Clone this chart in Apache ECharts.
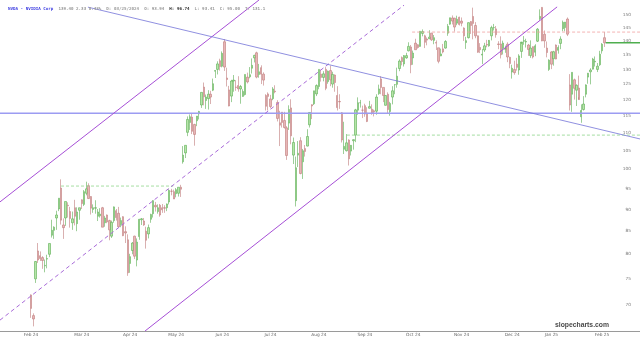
<!DOCTYPE html>
<html><head><meta charset="utf-8">
<script src="https://cdn.jsdelivr.net/npm/echarts@6/dist/echarts.min.js"></script>
<style>html,body{margin:0;padding:0;background:#fff}#c{width:640px;height:341px}</style>
</head><body><div id="c"></div>
<script>
// ---- daily candles (NVDA), Feb 2024 - Feb 2025 ----
const dates = [
'2024-02-20','2024-02-21','2024-02-22','2024-02-23','2024-02-26','2024-02-27','2024-02-28','2024-02-29',
'2024-03-01','2024-03-04','2024-03-05','2024-03-06','2024-03-07','2024-03-08','2024-03-11','2024-03-12','2024-03-13','2024-03-14','2024-03-15','2024-03-18','2024-03-19','2024-03-20','2024-03-21','2024-03-22','2024-03-25','2024-03-26','2024-03-27','2024-03-28',
'2024-04-01','2024-04-02','2024-04-03','2024-04-04','2024-04-05','2024-04-08','2024-04-09','2024-04-10','2024-04-11','2024-04-12','2024-04-15','2024-04-16','2024-04-17','2024-04-18','2024-04-19','2024-04-22','2024-04-23','2024-04-24','2024-04-25','2024-04-26','2024-04-29','2024-04-30',
'2024-05-01','2024-05-02','2024-05-03','2024-05-06','2024-05-07','2024-05-08','2024-05-09','2024-05-10','2024-05-13','2024-05-14','2024-05-15','2024-05-16','2024-05-17','2024-05-20','2024-05-21','2024-05-22','2024-05-23','2024-05-24','2024-05-28','2024-05-29','2024-05-30','2024-05-31',
'2024-06-03','2024-06-04','2024-06-05','2024-06-06','2024-06-07','2024-06-10','2024-06-11','2024-06-12','2024-06-13','2024-06-14','2024-06-17','2024-06-18','2024-06-20','2024-06-21','2024-06-24','2024-06-25','2024-06-26','2024-06-27','2024-06-28',
'2024-07-01','2024-07-02','2024-07-03','2024-07-05','2024-07-08','2024-07-09','2024-07-10','2024-07-11','2024-07-12','2024-07-15','2024-07-16','2024-07-17','2024-07-18','2024-07-19','2024-07-22','2024-07-23','2024-07-24','2024-07-25','2024-07-26','2024-07-29','2024-07-30','2024-07-31',
'2024-08-01','2024-08-02','2024-08-05','2024-08-06','2024-08-07','2024-08-08','2024-08-09','2024-08-12','2024-08-13','2024-08-14','2024-08-15','2024-08-16','2024-08-19','2024-08-20','2024-08-21','2024-08-22','2024-08-23','2024-08-26','2024-08-27','2024-08-28','2024-08-29','2024-08-30',
'2024-09-03','2024-09-04','2024-09-05','2024-09-06','2024-09-09','2024-09-10','2024-09-11','2024-09-12','2024-09-13','2024-09-16','2024-09-17','2024-09-18','2024-09-19','2024-09-20','2024-09-23','2024-09-24','2024-09-25','2024-09-26','2024-09-27','2024-09-30',
'2024-10-01','2024-10-02','2024-10-03','2024-10-04','2024-10-07','2024-10-08','2024-10-09','2024-10-10','2024-10-11','2024-10-14','2024-10-15','2024-10-16','2024-10-17','2024-10-18','2024-10-21','2024-10-22','2024-10-23','2024-10-24','2024-10-25','2024-10-28','2024-10-29','2024-10-30','2024-10-31',
'2024-11-01','2024-11-04','2024-11-05','2024-11-06','2024-11-07','2024-11-08','2024-11-11','2024-11-12','2024-11-13','2024-11-14','2024-11-15','2024-11-18','2024-11-19','2024-11-20','2024-11-21','2024-11-22','2024-11-25','2024-11-26','2024-11-27','2024-11-29',
'2024-12-02','2024-12-03','2024-12-04','2024-12-05','2024-12-06','2024-12-09','2024-12-10','2024-12-11','2024-12-12','2024-12-13','2024-12-16','2024-12-17','2024-12-18','2024-12-19','2024-12-20','2024-12-23','2024-12-24','2024-12-26','2024-12-27','2024-12-30','2024-12-31',
'2025-01-02','2025-01-03','2025-01-06','2025-01-07','2025-01-08','2025-01-10','2025-01-13','2025-01-14','2025-01-15','2025-01-16','2025-01-17','2025-01-21','2025-01-22','2025-01-23','2025-01-24','2025-01-27','2025-01-28','2025-01-29','2025-01-30','2025-01-31',
'2025-02-03','2025-02-04','2025-02-05','2025-02-06','2025-02-07','2025-02-10','2025-02-11','2025-02-12','2025-02-13','2025-02-14','2025-02-18'
];
const opens = [
71.9,68.1,75.0,80.7,79.7,79.3,77.6,79.0,
80.0,84.1,85.2,88.0,90.1,95.2,86.4,88.0,91.0,89.5,86.9,90.4,86.7,89.8,92.3,91.2,93.9,95.8,93.1,90.0,
90.3,88.4,88.5,90.4,86.9,88.7,87.4,83.9,87.4,89.7,89.1,86.5,88.3,84.9,83.1,78.1,80.8,83.9,78.8,83.8,87.6,87.3,
85.0,84.4,87.7,89.0,91.0,89.5,91.0,90.4,90.4,90.4,91.8,94.4,94.3,93.8,93.9,95.4,102.0,104.4,110.2,113.1,114.7,112.5,
113.6,115.7,118.4,124.1,119.8,120.4,121.8,123.1,129.4,130.0,133.0,131.1,139.8,127.1,123.2,121.2,126.1,124.1,124.6,
123.5,121.1,121.7,127.4,127.5,130.4,134.0,135.8,128.3,130.6,128.4,121.4,121.9,120.3,120.4,122.8,119.2,113.0,116.2,113.7,111.5,112.9,
117.5,103.8,92.1,103.8,107.8,102.0,105.6,106.3,112.4,118.5,118.8,121.9,124.3,128.4,127.3,130.0,125.9,129.6,125.1,128.1,121.4,119.5,
116.0,105.4,105.0,108.0,104.9,107.8,109.4,116.8,119.1,116.8,118.2,115.9,117.4,117.1,116.6,116.5,122.0,126.8,124.0,118.3,
121.8,116.4,120.9,124.9,125.0,130.3,134.1,131.9,134.0,136.5,137.9,134.0,139.3,138.7,138.1,142.9,142.0,140.8,140.9,143.0,140.3,139.5,137.6,
134.7,137.2,137.5,143.0,146.4,148.8,148.7,146.8,149.1,147.6,144.9,139.5,141.3,147.4,149.4,145.9,142.0,137.7,135.0,136.8,
138.8,138.3,142.0,145.1,144.6,139.0,139.0,137.4,137.1,138.9,134.2,129.1,130.0,131.8,129.8,136.3,140.0,139.7,138.6,134.8,138.0,
136.0,140.0,148.6,153.0,142.6,137.5,130.0,136.1,133.7,138.6,136.7,139.2,144.7,145.1,148.4,124.8,121.8,126.5,123.1,123.8,
114.8,117.0,121.8,127.4,129.2,130.1,132.6,130.0,131.6,136.5,141.3
];
const highs = [
72.0,68.5,78.6,82.4,80.6,79.6,78.9,79.9,
82.3,87.6,86.1,89.7,92.7,97.4,87.9,91.9,91.7,90.6,89.5,92.3,90.5,90.4,92.4,94.7,96.8,96.4,93.2,91.2,
92.2,90.1,90.3,90.6,88.5,88.8,87.6,87.4,90.7,90.1,90.6,88.1,88.4,86.1,84.3,80.1,82.6,84.0,83.4,87.8,88.0,88.0,
86.0,86.5,89.0,92.2,91.8,91.2,91.3,91.3,91.0,91.4,94.9,95.0,94.8,95.2,95.4,96.0,106.3,106.5,114.9,115.5,115.8,112.7,
115.0,116.6,122.4,125.6,121.7,123.1,122.9,126.9,129.8,132.8,133.7,136.3,140.8,130.6,124.5,126.5,128.1,126.4,127.7,
124.8,123.4,128.3,128.9,130.8,133.8,135.1,136.2,131.9,131.4,129.0,121.8,122.4,121.6,124.1,124.7,119.9,116.6,116.2,116.3,112.0,118.3,
120.2,108.7,103.4,107.7,108.8,105.5,106.6,111.1,116.2,118.6,122.9,125.0,130.0,129.9,129.4,130.8,129.6,131.3,129.2,128.3,124.4,121.8,
116.2,113.3,109.7,108.2,106.6,108.2,117.2,120.8,120.0,118.2,118.8,117.7,119.7,118.6,117.0,121.8,124.9,127.7,124.0,121.5,
122.4,119.4,124.4,125.0,130.6,133.5,134.5,135.0,135.8,139.6,138.6,136.6,140.9,138.9,143.7,144.4,142.4,141.4,144.1,143.1,142.3,140.3,137.6,
137.3,139.0,140.4,146.5,148.9,149.8,148.9,149.7,149.3,149.0,145.2,141.6,147.1,147.6,152.9,147.2,142.1,139.3,137.2,139.4,
140.5,140.0,145.8,146.5,145.7,140.0,141.8,140.2,138.4,139.6,134.4,131.6,133.0,134.0,135.3,139.0,141.9,140.9,139.0,140.3,138.1,
138.9,144.9,152.2,153.1,144.0,139.9,133.5,136.4,136.5,138.8,138.5,141.8,147.8,147.2,149.0,128.4,129.0,126.9,125.0,127.9,
118.6,121.2,125.0,128.8,130.4,134.0,134.5,132.2,136.5,139.3,143.4
];
const lows = [
67.7,66.2,74.2,78.2,78.6,77.0,76.3,77.1,
79.4,83.6,83.3,85.3,89.6,86.5,83.3,86.2,88.1,85.8,85.3,86.3,85.0,87.6,90.1,90.8,93.4,92.5,88.8,89.2,
89.0,87.3,88.1,85.9,86.0,86.8,83.0,83.5,86.9,87.4,85.9,85.9,83.9,82.4,75.6,76.2,80.0,79.0,77.5,83.1,86.4,86.2,
81.2,83.4,86.9,88.1,89.5,89.0,88.3,89.2,89.2,89.6,91.2,93.4,92.5,92.9,93.1,93.0,101.5,103.0,109.1,110.9,109.7,106.4,
112.0,114.0,117.5,118.3,117.2,117.0,118.7,122.8,127.1,128.3,129.6,130.7,129.5,124.3,118.0,119.3,122.6,122.9,122.6,
118.8,121.0,121.4,125.3,127.0,128.6,132.4,127.0,127.2,125.1,124.6,116.7,116.7,117.4,119.9,122.1,113.4,106.3,111.6,111.3,102.5,110.9,
106.8,101.4,90.7,100.6,98.7,97.5,103.4,106.2,111.6,114.1,118.4,121.2,123.4,125.9,126.0,123.1,125.2,124.4,123.9,122.6,116.7,117.2,
107.3,104.1,104.8,101.0,103.7,105.3,107.4,115.4,117.6,114.4,114.8,113.2,117.3,115.4,114.9,115.4,121.6,121.8,119.3,118.2,
115.8,115.1,118.6,121.8,123.9,129.4,131.4,131.0,133.7,136.3,128.7,131.6,136.9,137.3,138.0,141.8,137.5,138.5,140.8,140.1,138.9,136.8,132.1,
134.6,135.6,137.3,142.0,146.2,146.3,143.6,146.0,145.9,145.6,140.1,137.2,141.0,142.7,140.7,141.1,135.8,135.7,131.8,136.1,
137.8,138.0,140.3,144.0,141.3,137.1,133.8,135.2,135.8,132.5,130.4,126.9,128.2,129.6,128.2,134.0,138.7,137.7,134.7,134.0,133.8,
134.6,139.7,147.8,140.0,137.6,134.2,129.5,130.1,131.3,133.5,135.5,137.1,143.7,143.7,141.9,116.7,116.3,120.1,118.1,120.8,
113.0,116.7,120.8,125.2,125.0,130.0,131.0,129.1,131.2,135.5,137.9
];
const closes = [
69.4,67.5,78.5,78.8,79.1,78.7,77.7,79.1,
82.3,85.2,85.9,88.7,92.7,87.5,85.8,91.9,90.9,87.9,87.8,88.4,89.4,90.4,91.4,94.3,95.0,92.6,90.3,90.4,
90.4,89.4,88.9,85.9,88.0,87.1,85.3,87.0,90.6,88.1,86.0,87.4,84.0,84.6,76.2,79.5,82.4,79.6,82.6,87.7,87.8,86.4,
83.0,85.8,88.8,92.1,90.6,90.4,88.7,89.9,90.3,91.3,94.6,94.4,92.5,94.8,95.4,94.9,103.8,106.5,114.0,114.8,110.5,109.6,
115.0,116.4,122.4,121.0,120.9,121.8,120.9,125.2,129.6,131.9,131.0,135.6,130.8,126.6,118.1,126.1,126.4,124.0,123.5,
124.3,122.7,128.3,125.8,128.2,131.4,134.9,127.4,129.2,128.4,126.4,118.0,121.1,117.9,123.5,122.6,114.3,112.3,113.1,111.6,103.7,117.0,
109.2,107.3,100.4,104.3,98.9,105.0,104.8,109.0,116.1,118.1,122.9,124.6,130.0,127.3,128.5,123.7,129.4,126.5,128.3,125.6,117.6,119.4,
108.0,106.2,107.2,102.8,106.5,108.1,116.9,119.1,119.1,116.8,115.6,113.4,117.9,116.0,116.3,120.9,123.5,124.0,121.4,121.4,
117.0,118.9,122.9,124.9,127.7,132.9,132.7,134.8,134.8,138.1,131.6,135.7,136.9,137.7,143.7,143.6,139.6,140.4,141.5,140.5,141.3,139.3,132.8,
135.4,136.1,139.9,145.6,148.9,147.6,145.3,148.3,146.3,146.8,142.0,140.2,147.0,145.9,146.7,142.0,136.0,136.9,135.3,138.3,
138.6,140.3,145.1,145.1,142.4,138.8,135.1,139.3,137.3,134.3,132.0,130.4,128.9,130.7,134.7,139.7,140.2,139.9,137.0,137.5,134.3,
138.3,144.5,149.4,140.1,140.1,135.9,133.2,131.8,136.2,133.6,137.7,140.8,147.1,147.2,142.6,118.4,129.0,123.7,124.7,120.1,
116.7,118.7,124.8,128.7,129.8,133.6,132.8,131.1,135.3,138.9,139.4
];

// ---- axis ticks ----
const xLabelIdx = [0, 22, 43, 63, 83, 104, 125, 145, 166, 187, 209, 226, 248];
const xLabelText = ['Feb 24','Mar 24','Apr 24','May 24','Jun 24','Jul 24','Aug 24','Sep 24','Oct 24','Nov 24','Dec 24','Jan 25','Feb 25'];
const yTicks = [70,75,80,85,90,95,100,105,110,115,120,125,130,135,140,145,150];
const yRange = [65.4, 156.0];
const padLeft = 13, padRight = 15;   // empty trading-day slots before/after the data

// ---- drawn annotations: [trading-day index, price] ----
const upperChannel = [[-13.5, 91.8], [99.0, 156.0]];
const midChannel   = [[-13.5, 67.3], [162.0, 153.9]];
const lowerChannel = [[49.5, 65.4], [228.5, 153.2]];
const downTrend    = [[24.7, 153.1], [264.5, 108.3]];
const support      = [[-13.5, 115.9], [264.5, 115.9]];
const level96      = [[13, 95.7], [61.7, 95.7]];
const level109     = [[137.2, 109.4], [264.5, 109.4]];
const level143     = [[165.5, 143.4], [264.5, 143.4]];
const lastPrice    = [[249.6, 139.4], [264.5, 139.4]];

const header = {
  sym: 'NVDA - NVIDIA Corp',
  a: '139.40 2.33 0.43%  D: 03/25/2024  O: 93.94',
  b: 'H: 96.74',
  c: 'L: 93.41  C: 95.00  T: 131.1'
};

const L = Math.log;
const cats = [];
for (let i = 0; i < padLeft; i++) cats.push('pre' + i);
dates.forEach(d => cats.push(d));
for (let i = 0; i < padRight; i++) cats.push('post' + i);
const candleData = dates.map((d, i) => [i + padLeft, L(opens[i]), L(closes[i]), L(lows[i]), L(highs[i])]);
const labelMap = {};
xLabelIdx.forEach((d, k) => { labelMap[d + padLeft] = xLabelText[k]; });

function lineSeries(pts, color, width, type) {
  return {
    type: 'line', xAxisIndex: 1, yAxisIndex: 0, silent: true, symbol: 'none', z: 5,
    data: pts.map(p => [p[0], L(p[1])]),
    lineStyle: { color: color, width: width, type: type || 'solid' }
  };
}

const chart = echarts.init(document.getElementById('c'), null, { renderer: 'canvas' });
chart.setOption({
  animation: false,
  backgroundColor: '#ffffff',
  title: {
    left: 3, top: 2,
    text: '{s|' + header.sym + '}  {n|' + header.a + '}  {b|' + header.b + '}  {n|' + header.c + '}',
    textStyle: {
      fontFamily: 'DejaVu Sans Mono', fontSize: 4.2,
      rich: {
        s: { color: '#3a3ae0', fontFamily: 'DejaVu Sans Mono', fontSize: 4.2 },
        n: { color: '#9a9a9a', fontFamily: 'DejaVu Sans Mono', fontSize: 4.2 },
        b: { color: '#333', fontWeight: 'bold', fontFamily: 'DejaVu Sans Mono', fontSize: 4.2 }
      }
    }
  },
  graphic: [{
    type: 'text', right: 31, bottom: 12,
    style: { text: 'slopecharts.com', fill: '#4a4a4a', font: 'bold 6.8px "Liberation Sans"' }
  }],
  grid: { left: 0, right: 0, top: 0, bottom: 10 },
  xAxis: [{
    type: 'category', data: cats, boundaryGap: true, position: 'bottom',
    axisLine: { lineStyle: { color: '#9a9a9a', width: 1 } },
    axisTick: { show: false },
    splitLine: { show: false },
    axisLabel: {
      interval: (idx) => labelMap[idx] !== undefined,
      formatter: (v, idx) => labelMap[idx] || '',
      fontSize: 4.3, color: '#666', margin: 2, hideOverlap: false, fontFamily: 'DejaVu Sans'
    }
  }, {
    type: 'value', show: false, min: -padLeft - 0.5, max: dates.length + padRight - 0.5
  }],
  yAxis: [{
    type: 'value', position: 'right', scale: true,
    min: L(yRange[0]), max: L(yRange[1]),
    axisLine: { show: false }, axisTick: { show: false }, splitLine: { show: false },
    axisLabel: {
      inside: true, margin: 9, fontSize: 4.3, color: '#777', fontFamily: 'DejaVu Sans',
      customValues: yTicks.map(L),
      formatter: v => String(Math.round(Math.exp(v)))
    }
  }],
  series: [
    lineSeries(support, '#9c9cf2', 1.5),
    lineSeries(level96, '#8ed48a', 0.8, [3, 2]),
    lineSeries(level109, '#8ed48a', 0.8, [3, 2]),
    lineSeries(level143, '#f0a0a0', 0.8, [3, 2]),
    {
      type: 'candlestick', xAxisIndex: 0, yAxisIndex: 0, z: 3,
      data: candleData,
      encode: { x: 0, y: [1, 2, 3, 4] },
      barWidth: '82%',
      itemStyle: {
        color: '#b6e5a8', borderColor: '#5aad52',
        color0: '#e8b6b6', borderColor0: '#c07a7a',
        borderWidth: 0.6
      }
    },
    lineSeries(upperChannel, '#a64fd6', 1),
    lineSeries(midChannel, '#a86ad8', 1, [4, 3]),
    lineSeries(lowerChannel, '#a64fd6', 1),
    lineSeries(downTrend, '#7474d8', 0.8),
    lineSeries(lastPrice, '#4fae4f', 1.5)
  ]
});
</script>
</body></html>
